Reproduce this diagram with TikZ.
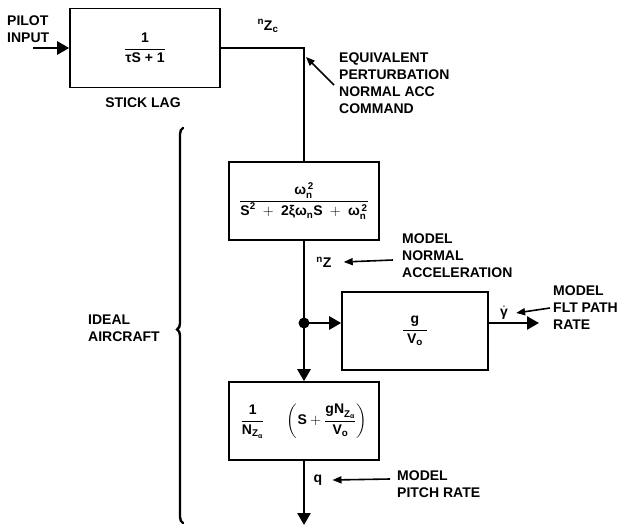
\documentclass[tikz,border=0pt]{standalone}
\usepackage{fontspec}
\setmainfont{Liberation Sans}
\usepackage{amsmath}
\usetikzlibrary{arrows.meta, calc, decorations.pathreplacing}

\newcommand{\tx}[1]{\text{\bfseries #1}}

\tikzset{
  tf/.style={
    rectangle, draw=black, line width=1.6pt,
    minimum width=150pt, minimum height=78pt, inner sep=0pt,
    font=\fontsize{14}{17}\selectfont\bfseries,
  },
  wire/.style={line width=2.6pt},
  flow/.style={line width=2.6pt, -{Triangle[length=12pt,width=13pt]}},
  ptr/.style={line width=1.6pt, -{Triangle[length=9pt,width=7pt]}},
  lbl/.style={font=\fontsize{14}{17}\selectfont\bfseries, align=left, inner sep=0pt},
  sig/.style={font=\fontsize{14}{17}\selectfont\bfseries, inner sep=0pt},
}

\begin{document}
\begin{tikzpicture}[x=1pt,y=-1pt]
  \useasboundingbox (0,0) rectangle (628,527);

  % blocks
  \node[tf, minimum height=79pt] (lag) at (145,48)
        {$\dfrac{\;\tx{1}\;}{\tx{τS + 1}}$};
  \node[tf] (wn) at (304,201)
        {$\dfrac{\tx{ω}_{\tx{n}}^{\,\tx{2}}}
                {\tx{S}^{\tx{2}} \;+\; \tx{2ξω}_{\tx{n}}\tx{S} \;+\; \tx{ω}_{\tx{n}}^{\,\tx{2}}}$};
  \node[tf, minimum width=146pt] (gv) at (415,331)
        {$\dfrac{\tx{g}}{\;\tx{V}_{\tx{o}}\;}$};
  \node[tf] (pitch) at (304,421)
        {$\dfrac{\tx{1}}{\tx{N}_{\tx{Z}_{\tx{α}}}}\hspace{20pt}
          \left(\tx{S} + \dfrac{\tx{gN}_{\tx{Z}_{\tx{α}}}}{\tx{V}_{\tx{o}}}\right)$};
  \node[circle, fill=black, inner sep=0pt, minimum size=11pt] (junc) at (304,323) {};

  % free ends
  \coordinate (pin)  at (33,48);
  \coordinate (gout) at (539,323);
  \coordinate (qout) at (304,525);

  % labels
  \node[lbl, anchor=base west] (pilot) at (7,42) {PILOT\\INPUT};
  \node[sig, anchor=base] (stick) at (143,107) {STICK LAG};
  \node[sig] (nzc) at (268,26) {${}^{\tx{n}}\tx{Z}_{\tx{c}}$};
  \node[lbl, anchor=base west] (eqv) at (339,113)
        {EQUIVALENT\\PERTURBATION\\NORMAL ACC\\COMMAND};
  \node[sig] (nz) at (324,262) {${}^{\tx{n}}\tx{Z}$};
  \node[lbl, anchor=base west] (accl) at (402,277) {MODEL\\NORMAL\\ACCELERATION};
  \node[lbl, anchor=base west] (ideal) at (88,341) {IDEAL\\AIRCRAFT};
  \node[sig] (gdot) at (504,313) {$\dot{\tx{γ}}$};
  \node[lbl, anchor=base west] (fpr) at (553,329) {MODEL\\FLT PATH\\RATE};
  \node[sig] (q) at (318,480) {q};
  \node[lbl, anchor=base west] (prl) at (397,497) {MODEL\\PITCH RATE};

  % signal flow
  \draw[flow] (pin) -- (lag.west);
  \draw[wire] (lag.east) -| (wn.north);
  \draw[wire] (wn.south) -- (junc.center);
  \draw[flow] (junc.center) -- (junc -| gv.west);
  \draw[flow] (junc.center) -- (pitch.north);
  \draw[flow] (junc -| gv.east) -- (gout);
  \draw[flow] (pitch.south) -- (qout);

  % pointers
  \coordinate (eqtip) at (306,57);
  \draw[ptr] ([xshift=-5pt,yshift=28pt]eqv.base west) -- (eqtip);
  \draw[ptr] ([xshift=-9pt,yshift=17pt]accl.base west) -- ([xshift=12pt]nz.east);
  \draw[ptr] ([xshift=-3pt,yshift=21pt]fpr.base west) -- ([xshift=8pt]gdot.east);
  \draw[ptr] ([xshift=-7pt,yshift=18pt]prl.base west) -- ([xshift=10pt]q.east);

  % grouping brace
  \draw[line width=2.4pt, line cap=round, decorate,
        decoration={brace, amplitude=6pt, aspect=0.49}] (183,523) -- (183,128);
\end{tikzpicture}
\end{document}
